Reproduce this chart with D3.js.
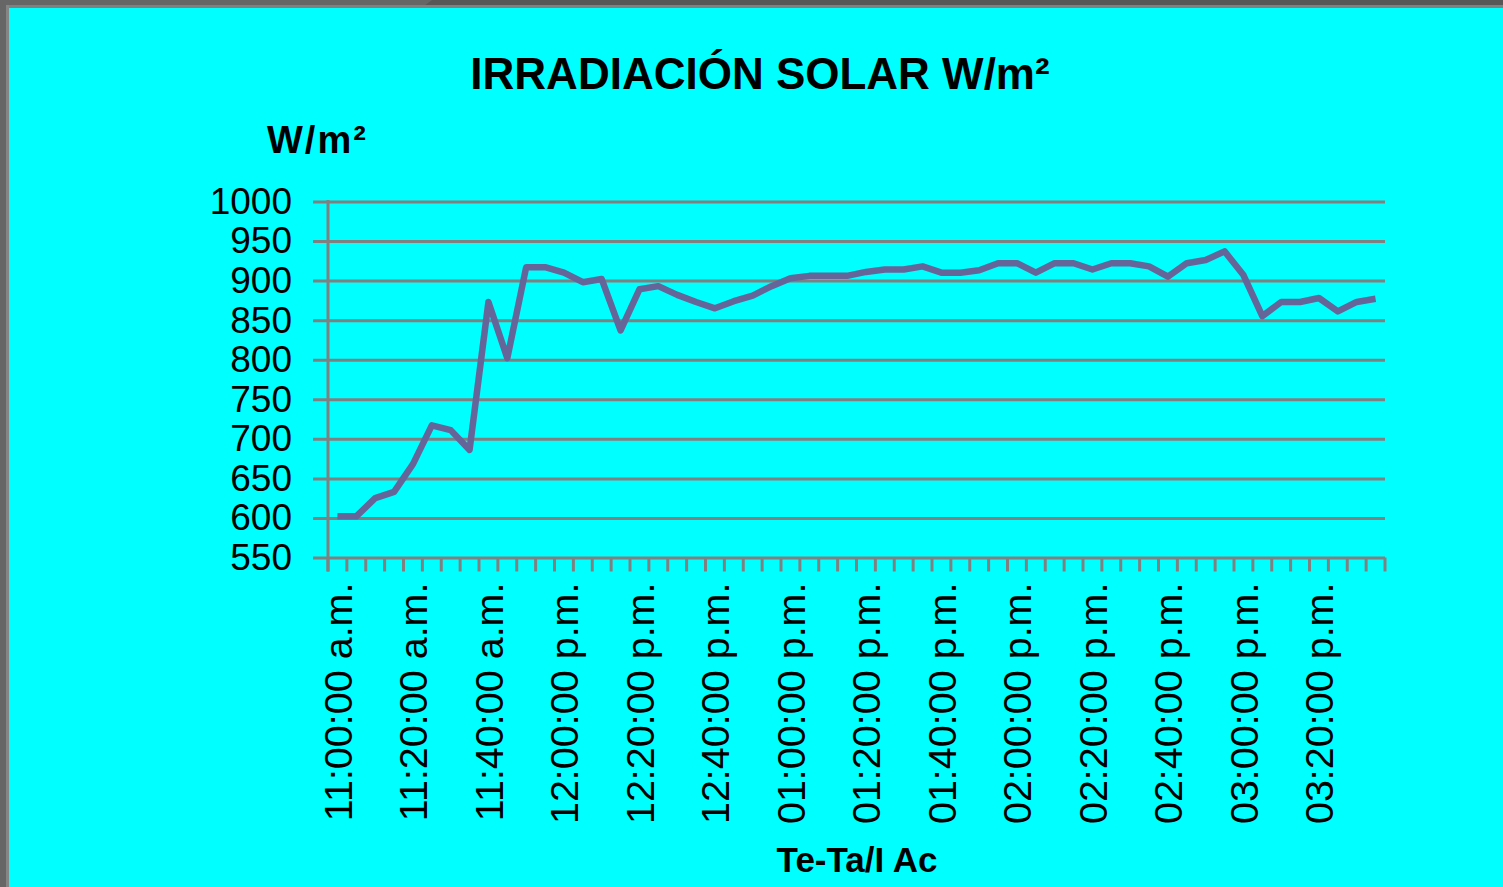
<!DOCTYPE html>
<html lang="es">
<head>
<meta charset="UTF-8">
<title>Irradiación solar</title>
<script src="https://d3js.org/d3.v7.min.js"></script>
<style>
  html, body { margin: 0; padding: 0; background: #00ffff; }
  svg { display: block; font-family: "Liberation Sans", Arial, sans-serif; }
</style>
</head>
<body>
<svg width="1503" height="887"></svg>
<script>
// time categories, one reading every 5 minutes
const times = [
  "11:00:00 a.m.", "11:05:00 a.m.", "11:10:00 a.m.", "11:15:00 a.m.",
  "11:20:00 a.m.", "11:25:00 a.m.", "11:30:00 a.m.", "11:35:00 a.m.",
  "11:40:00 a.m.", "11:45:00 a.m.", "11:50:00 a.m.", "11:55:00 a.m.",
  "12:00:00 p.m.", "12:05:00 p.m.", "12:10:00 p.m.", "12:15:00 p.m.",
  "12:20:00 p.m.", "12:25:00 p.m.", "12:30:00 p.m.", "12:35:00 p.m.",
  "12:40:00 p.m.", "12:45:00 p.m.", "12:50:00 p.m.", "12:55:00 p.m.",
  "01:00:00 p.m.", "01:05:00 p.m.", "01:10:00 p.m.", "01:15:00 p.m.",
  "01:20:00 p.m.", "01:25:00 p.m.", "01:30:00 p.m.", "01:35:00 p.m.",
  "01:40:00 p.m.", "01:45:00 p.m.", "01:50:00 p.m.", "01:55:00 p.m.",
  "02:00:00 p.m.", "02:05:00 p.m.", "02:10:00 p.m.", "02:15:00 p.m.",
  "02:20:00 p.m.", "02:25:00 p.m.", "02:30:00 p.m.", "02:35:00 p.m.",
  "02:40:00 p.m.", "02:45:00 p.m.", "02:50:00 p.m.", "02:55:00 p.m.",
  "03:00:00 p.m.", "03:05:00 p.m.", "03:10:00 p.m.", "03:15:00 p.m.",
  "03:20:00 p.m.", "03:25:00 p.m.", "03:30:00 p.m.", "03:35:00 p.m."
];

// irradiance W/m2
const irradiance = [
  602, 602, 625, 633, 668, 717, 711, 686, 873, 802,
  917, 917, 910, 898, 902, 837, 889, 893, 882, 873,
  865, 874, 881, 893, 903, 906, 906, 906, 911, 914,
  914, 918, 910, 910, 913, 922, 922, 910, 922, 922,
  914, 922, 922, 918, 905, 922, 926, 937, 907, 855,
  873, 873, 878, 861, 873, 877
];

// only every 4th time is labelled
const labelledTimes = times.filter((t, i) => i % 4 === 0);
const yTicks = [550, 600, 650, 700, 750, 800, 850, 900, 950, 1000];

const svg = d3.select("svg");
const W = 1503, H = 887;

// window frame: dark band on top, grey strip on the left
svg.append("rect").attr("x", 0).attr("y", 0).attr("width", W).attr("height", H).attr("fill", "#00ffff");
svg.append("rect").attr("x", 0).attr("y", 0).attr("width", W).attr("height", 6).attr("fill", "#575757");
svg.append("path").attr("d", "M0,0H432L424,6H0Z").attr("fill", "#666666");
svg.append("rect").attr("x", 0).attr("y", 5).attr("width", W).attr("height", 3).attr("fill", "#808080");
svg.append("rect").attr("x", 0).attr("y", 0).attr("width", 6).attr("height", H).attr("fill", "#666666");
svg.append("rect").attr("x", 6).attr("y", 5).attr("width", 3).attr("height", H).attr("fill", "#858585");

const plot = { left: 328, right: 1385, top: 201.5, bottom: 557.5 };

const x = d3.scaleBand()
  .domain(times)
  .range([plot.left, plot.right])
  .paddingInner(0).paddingOuter(0);

const y = d3.scaleLinear()
  .domain([550, 1000])
  .range([plot.bottom, plot.top]);

// horizontal gridlines plus outer tick marks
const yAxis = svg.append("g")
  .attr("transform", `translate(${plot.left - 15},0)`)
  .call(d3.axisLeft(y).tickValues(yTicks).tickFormat(d3.format("d"))
    .tickSize(-(plot.right - plot.left + 15)).tickPadding(21));
yAxis.select(".domain").remove();
yAxis.selectAll(".tick line").attr("stroke", "#808080").attr("stroke-width", 3);
yAxis.selectAll(".tick text")
  .attr("font-size", 37)
  .attr("fill", "#000")
  .attr("font-family", "Liberation Sans, Arial, sans-serif");

// vertical axis line
svg.append("line")
  .attr("x1", plot.left).attr("x2", plot.left)
  .attr("y1", plot.top - 1.5).attr("y2", plot.bottom + 14)
  .attr("stroke", "#808080").attr("stroke-width", 3);

// category tick marks at band boundaries
const boundaries = times.map(t => x(t)).concat([x(times[times.length - 1]) + x.bandwidth()]);
svg.append("g").selectAll("line")
  .data(boundaries)
  .join("line")
  .attr("x1", d => d).attr("x2", d => d)
  .attr("y1", plot.bottom).attr("y2", plot.bottom + 14)
  .attr("stroke", "#808080").attr("stroke-width", 3);

// rotated time labels
const xAxis = svg.append("g")
  .attr("transform", `translate(0,${plot.bottom})`)
  .call(d3.axisBottom(x).tickValues(labelledTimes).tickSize(0));
xAxis.select(".domain").remove();
xAxis.selectAll(".tick text")
  .attr("font-size", 39.5)
  .attr("fill", "#000")
  .attr("font-family", "Liberation Sans, Arial, sans-serif")
  .attr("transform", "rotate(-90)")
  .attr("text-anchor", "end")
  .attr("x", -25)
  .attr("y", 0)
  .attr("dy", "0.36em");

// data line
const line = d3.line()
  .x((d, i) => x(times[i]) + x.bandwidth() / 2)
  .y(d => y(d));

svg.append("path")
  .datum(irradiance)
  .attr("fill", "none")
  .attr("stroke", "#65659a")
  .attr("stroke-width", 6.5)
  .attr("stroke-linejoin", "round")
  .attr("d", line);

// titles
svg.append("text")
  .attr("x", 760).attr("y", 89)
  .attr("text-anchor", "middle")
  .attr("font-size", 44).attr("font-weight", "bold")
  .text("IRRADIACIÓN SOLAR W/m²");

svg.append("text")
  .attr("x", 267).attr("y", 153)
  .attr("font-size", 38).attr("font-weight", "bold")
  .attr("letter-spacing", 2)
  .text("W/m²");

svg.append("text")
  .attr("x", 857).attr("y", 872)
  .attr("text-anchor", "middle")
  .attr("font-size", 35).attr("font-weight", "bold")
  .text("Te-Ta/I Ac");
</script>
</body>
</html>
